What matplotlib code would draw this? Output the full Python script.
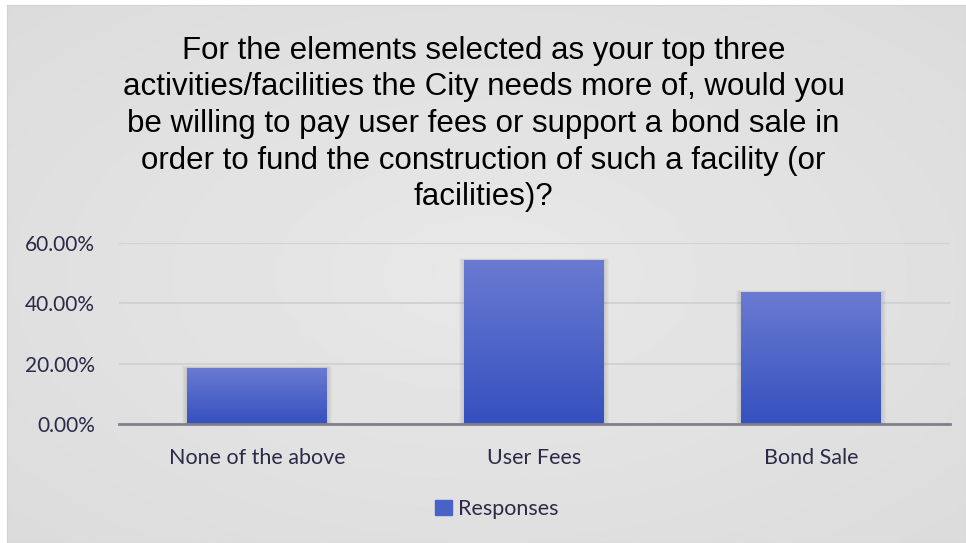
import numpy as np
import matplotlib.pyplot as plt
from matplotlib.patches import Rectangle
from matplotlib.colors import LinearSegmentedColormap

categories = ["None of the above", "User Fees", "Bond Sale"]
responses = [0.187, 0.543, 0.437]
yticks = [0.0, 0.2, 0.4, 0.6]
series_name = "Responses"
title = ("For the elements selected as your top three\n"
         "activities/facilities the City needs more of, would you\n"
         "be willing to pay user fees or support a bond sale in\n"
         "order to fund the construction of such a facility (or\n"
         "facilities)?")

W, H = 966, 543
fig = plt.figure(figsize=(W / 100, H / 100), dpi=100)
fig.patch.set_facecolor("white")

# background with soft radial gradient
bg = fig.add_axes([7 / W, 0, 1 - 7 / W, 1 - 5 / H])
yy, xx = np.mgrid[-1:1:300j, -1:1:500j]
r = np.sqrt(xx ** 2 + yy ** 2) / np.sqrt(2)
shade = 0.91 - 0.05 * r
bg.imshow(shade, cmap="gray", vmin=0, vmax=1, aspect="auto",
          extent=(0, 1, 0, 1), interpolation="bilinear")
bg.set_xticks([])
bg.set_yticks([])
for s in bg.spines.values():
    s.set_color("#d0d0d0")
    s.set_linewidth(0.8)

text_col = "#2b2b48"
font = "Lato"

ax = fig.add_axes([118.5 / W, (H - 424.3) / H, 831 / W, 181.3 / H])
ax.set_facecolor("none")
x = np.arange(len(categories))
bars = ax.bar(x, responses, width=0.505, color="#4a62c8", zorder=3)

# gradient fill + soft shadow for each bar
grad = np.linspace(0, 1, 256).reshape(-1, 1)
cmap = LinearSegmentedColormap.from_list("b", ["#3550bf", "#6a7bd1"])
for b in bars:
    x0, w, h = b.get_x(), b.get_width(), b.get_height()
    for k in range(5):
        d = 0.004 * (k + 1)
        ax.add_patch(Rectangle((x0 - d, 0), w + 2 * d, h + d * 0.3, color="black",
                               alpha=0.025, lw=0, zorder=2))
    im = ax.imshow(grad, cmap=cmap, aspect="auto", origin="lower",
                   extent=(x0, x0 + w, 0, h), zorder=4)
    im.set_clip_path(b)

ax.set_xlim(-0.5, 2.5)
ax.set_ylim(0, 0.6)
ax.set_yticks(yticks)
ax.set_yticklabels([f"{v * 100:.2f}%" for v in yticks])
ax.set_xticks(x)
ax.set_xticklabels(categories)
ax.grid(axis="y", color="#d2d2d2", linewidth=1.5, zorder=1)
ax.tick_params(axis="y", length=0, pad=17, labelsize=15, labelcolor=text_col)
ax.tick_params(axis="x", length=0, pad=17, labelsize=15.5, labelcolor=text_col)
for lab in ax.get_xticklabels() + ax.get_yticklabels():
    lab.set_fontfamily(font)
for s in ["top", "right", "left"]:
    ax.spines[s].set_visible(False)
ax.spines["bottom"].set_color("#80808c")
ax.spines["bottom"].set_linewidth(2)
ax.spines["bottom"].set_zorder(5)

fig.text(483.5 / W, 1 - 124 / H, title, ha="center", va="center",
         fontsize=22.5, family="Liberation Sans", color="black", linespacing=1.29)

handle = Rectangle((0, 0), 1, 1, color="#4a62c8")
leg = ax.legend([handle], [series_name], loc="center",
                bbox_to_anchor=(497 / W, 1 - 509 / H), bbox_transform=fig.transFigure,
                frameon=False, handlelength=0.75, handleheight=0.75, handletextpad=0.3,
                prop={"family": font, "size": 15.5})
for t in leg.get_texts():
    t.set_color(text_col)

fig.savefig("out.png", dpi=100)
